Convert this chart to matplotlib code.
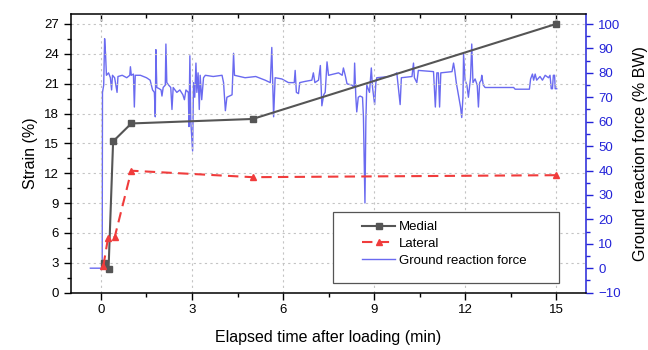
import matplotlib
matplotlib.use("Agg")
import matplotlib.pyplot as plt
from matplotlib.patches import Rectangle
from matplotlib.ticker import MultipleLocator

plt.rcParams['font.family'] = ['Liberation Sans', 'DejaVu Sans']

# strain data (%)
medial_t = [0.1, 0.25, 0.4, 1.0, 5.0, 15.0]
medial_strain = [3.0, 2.4, 15.2, 17.0, 17.45, 27.0]
lateral_t = [0.08, 0.23, 0.45, 1.0, 5.0, 15.0]
lateral_strain = [2.7, 5.45, 5.55, 12.25, 11.6, 11.8]

# ground reaction force (% BW)
grf_t = [-0.35, 0.0, 0.04, 0.05, 0.09, 0.12, 0.15, 0.18, 0.25, 0.31, 0.35, 0.38,
         0.45, 0.53, 0.56, 0.7, 0.85, 0.95, 0.97, 1.0, 1.07, 1.1, 1.13, 1.3,
         1.5, 1.62, 1.7, 1.76, 1.79, 1.81, 1.84, 1.92, 1.98, 2.01, 2.05, 2.12,
         2.14, 2.17, 2.23, 2.3, 2.34, 2.38, 2.5, 2.6, 2.7, 2.75, 2.8, 2.88,
         2.9, 2.93, 2.96, 3.02, 3.05, 3.09, 3.13, 3.16, 3.2, 3.24, 3.27, 3.32,
         3.38, 3.44, 3.7, 3.99, 4.04, 4.1, 4.15, 4.32, 4.37, 4.4, 4.75, 5.1,
         5.41, 5.58, 5.63, 5.69, 5.74, 5.96, 6.18, 6.37, 6.4, 6.44, 6.51, 6.55,
         6.73, 6.95, 7.0, 7.05, 7.17, 7.23, 7.28, 7.34, 7.39, 7.45, 7.5, 7.83,
         7.95, 7.99, 8.05, 8.11, 8.27, 8.34, 8.36, 8.4, 8.43, 8.48, 8.54, 8.62,
         8.65, 8.7, 8.73, 8.76, 8.85, 8.91, 8.95, 9.02, 9.06, 9.09, 9.5, 9.7,
         9.75, 9.86, 9.9, 10.25, 10.3, 10.33, 10.41, 10.46, 10.96, 11.02, 11.07, 11.12,
         11.16, 11.2, 11.57, 11.62, 11.66, 11.71, 11.78, 11.85, 11.89, 11.93, 11.95, 12.0,
         12.06, 12.11, 12.18, 12.22, 12.26, 12.33, 12.4, 12.44, 12.48, 12.53, 12.55, 12.6,
         12.66, 13.2, 13.6, 13.65, 14.12, 14.16, 14.22, 14.26, 14.31, 14.36, 14.47, 14.55,
         14.64, 14.75, 14.8, 14.84, 14.88, 14.91, 14.95, 14.97, 15.02]
grf = [0, 0, 0.5, 72, 75, 94, 88, 79, 80, 78, 73, 79,
       78, 72, 78.5, 79, 78, 79, 82.5, 79, 79.5, 66, 79, 79,
       78, 77, 73, 72, 62, 89.5, 74, 73.5, 73, 70.5, 74, 75,
       91.8, 76, 75, 74, 65, 74, 72, 73, 71, 69, 73, 72,
       58, 87, 60, 48, 76, 70, 84, 72, 80, 65, 79, 69,
       78, 79, 78.5, 79, 76, 64.5, 70, 71, 88, 79, 78, 78.5,
       77, 76, 90.4, 62, 78, 77.5, 76, 76, 81, 72, 71.5, 76,
       76.5, 77, 80, 76, 77, 83, 66.5, 71, 72, 84.5, 79, 80,
       79, 82, 79, 75.5, 75, 74, 84, 70, 64, 70, 70.5, 70,
       62, 26.7, 60, 75, 72, 82, 74, 67, 76, 78, 78.5, 79.5,
       80, 67, 78, 78.5, 84, 78, 76, 81, 80.5, 66, 80, 80,
       66, 80, 80.5, 84, 81, 76, 71, 66, 61.7, 70, 87.7, 77,
       75, 70, 78, 91.8, 76, 77.5, 75, 66, 76, 77, 79, 75,
       74, 74, 74, 73.3, 73.3, 77.5, 79.5, 77, 79.5, 77, 78.5, 77,
       79, 78, 79, 73.5, 73.5, 79, 79, 73.5, 73.5]

blue = '#2323d8'

fig = plt.figure(figsize=(6.48, 3.5), dpi=100)
ax = fig.add_axes([0.109, 0.164, 0.796, 0.796])
ax2 = ax.twinx()
ax.set_zorder(ax2.get_zorder() + 1)
ax.patch.set_visible(False)

l3, = ax2.plot(grf_t, grf, color='#6a6af0', lw=1.0, label='Ground reaction force')
l1, = ax.plot(medial_t, medial_strain, color='#555555', lw=1.5, marker='s',
              markersize=4.5, label='Medial')
l2, = ax.plot(lateral_t, lateral_strain, color='#f03c3c', lw=1.5, ls=(0, (5, 3)),
              marker='^', markersize=5, label='Lateral')

ax.set_xlim(-1, 16)
ax.set_ylim(0, 28)
ax2.set_ylim(-10, 104.1)

ax.xaxis.set_major_locator(MultipleLocator(3))
ax.xaxis.set_minor_locator(MultipleLocator(1.5))
ax.yaxis.set_major_locator(MultipleLocator(3))
ax.yaxis.set_minor_locator(MultipleLocator(1.5))
ax2.yaxis.set_major_locator(MultipleLocator(10))
ax2.yaxis.set_minor_locator(MultipleLocator(5))

ax.tick_params(which='major', length=5, width=1, labelsize=9.5, direction='out')
ax.tick_params(which='minor', length=3, width=1, direction='out')
ax2.tick_params(which='major', length=5, width=1, labelsize=9.5, colors=blue)
ax2.tick_params(which='minor', length=3, width=1, colors=blue)

top = ax.secondary_xaxis('top')
top.xaxis.set_major_locator(MultipleLocator(3))
top.xaxis.set_minor_locator(MultipleLocator(1.5))
top.tick_params(which='major', direction='in', length=5, width=1, labeltop=False)
top.tick_params(which='minor', direction='in', length=3, width=1)
top.spines['top'].set_linewidth(1.1)

for s in ['left', 'bottom']:
    ax.spines[s].set_linewidth(1.1)
ax.spines['right'].set_visible(False)
ax.spines['top'].set_visible(False)
ax2.spines['right'].set_color(blue)
ax2.spines['right'].set_linewidth(1.1)
for s in ['left', 'top', 'bottom']:
    ax2.spines[s].set_visible(False)

ax.grid(True, which='major', color='#c4c4c4', ls=(0, (2, 3)), lw=0.8)

ax.set_xlabel('Elapsed time after loading (min)', fontsize=11.5, labelpad=10)
ax.set_ylabel('Strain (%)', fontsize=11.5, labelpad=4)
ax2.set_ylabel('Ground reaction force (% BW)', fontsize=11.5, labelpad=9)

ax.add_patch(Rectangle((0.509, 0.034), 0.438, 0.256, transform=ax.transAxes,
                       facecolor='white', edgecolor='#555555', lw=0.9, zorder=4.5))
ax.legend([l1, l2, l3], ['Medial', 'Lateral', 'Ground reaction force'],
          loc='upper left', bbox_to_anchor=(0.565, 0.257), frameon=False,
          fontsize=9.5, handlelength=2.5, handletextpad=0.3, labelspacing=0.35,
          borderpad=0, borderaxespad=0)

fig.savefig('out.png', dpi=100)
